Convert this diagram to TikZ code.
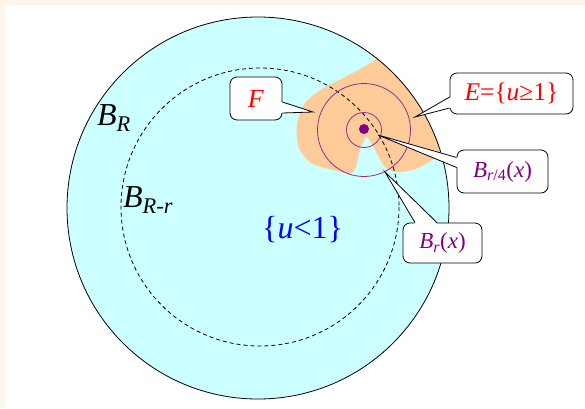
\documentclass[tikz,border=0pt]{standalone}
\usepackage{fontspec}
\setmainfont{Liberation Serif}
\usetikzlibrary{positioning,calc}
\definecolor{cream}{RGB}{253,246,237}
\definecolor{skyfill}{RGB}{204,255,255}
\definecolor{peach}{RGB}{255,204,153}
\definecolor{plum}{RGB}{128,0,128}
\definecolor{plumline}{RGB}{150,45,140}

\begin{document}
\begin{tikzpicture}[x=1pt,y=-1pt,
  callbox/.style={draw,line width=0.8pt,rounded corners=7pt,fill=white,inner sep=0pt,font=\fontsize{23}{28}\selectfont},
  bigtext/.style={anchor=base west,inner sep=0pt,font=\fontsize{32}{38}\selectfont},
  ring/.style={draw=plumline,line width=0.8pt}]
  \fill[cream] (0,0) rectangle (585,408);
  \fill[white] (5,5) rectangle (585,408);
  \useasboundingbox (0,0) rectangle (585,408);
  \fill[skyfill] (258,208) circle (191);
  \begin{scope}
    \clip (258,208) circle (191);
    \fill[peach] plot[smooth cycle] coordinates {(400,40) (372,62) (343,78) (322,89) (305,103) (297,124)
      (299,148) (311,163) (333,170) (353,172) (360,150) (367,137) (375,150) (386,168) (400,172)
      (418,168) (436,158) (470,140) (480,60)};
  \end{scope}
  \draw[line width=0.8pt] (258,208) circle (191);
  \draw[dash pattern=on 4pt off 3pt,line width=0.8pt] (260,207) circle (139);
  \draw[ring] (364,130) circle (46.5);
  \draw[ring] (364,130) circle (17.5);
  \fill[plum] (364,129) circle (5);

  \node[bigtext] (lblBR) at (97,125) {\textit{B}\textsubscript{\textit{R}}};
  \node[bigtext] (lblBRr) at (123,207) {\textit{B}\textsubscript{\textit{R-r}}};
  \node[bigtext,text=blue] (lblU) at (262,238) {\{\textit{u}<1\}};

  \node[callbox,minimum width=52pt,minimum height=43pt,text=red,font=\fontsize{26}{30}\selectfont] (boxF) at (256,98.5) {\textit{F}};
  \node[callbox,minimum width=123pt,minimum height=41pt,text=red,font=\fontsize{25.5}{30}\selectfont] (boxE) at (511.5,93.5) {\textit{E}=\{\textit{u}≥1\}};
  \node[callbox,minimum width=91pt,minimum height=43pt,text=plum] (boxQ) at (502.5,171.5) {\textit{B}\textsubscript{\textit{r}/4}(\textit{x})};
  \node[callbox,minimum width=79pt,minimum height=40pt,text=plum] (boxR) at (442.5,243) {\textit{B}\textsubscript{\textit{r}}(\textit{x})};

  \coordinate (tipF) at (313,112);
  \coordinate (tipE) at (415,117);
  \coordinate (tipQ) at (378,135);
  \coordinate (tipR) at (385,172);

  \fill[white] ([xshift=-1.5pt,yshift=-3.5pt]boxF.east) -- (tipF) -- ([xshift=-1.5pt,yshift=-14.5pt]boxF.east) -- cycle;
  \draw[line width=0.8pt] ([yshift=-3.5pt]boxF.east) -- (tipF) -- ([yshift=-14.5pt]boxF.east);
  \fill[white] ([xshift=1.5pt,yshift=-3.5pt]boxE.west) -- (tipE) -- ([xshift=1.5pt,yshift=-14.5pt]boxE.west) -- cycle;
  \draw[line width=0.8pt] ([yshift=-3.5pt]boxE.west) -- (tipE) -- ([yshift=-14.5pt]boxE.west);
  \fill[white] ([xshift=1.5pt,yshift=14pt]boxQ.west) -- (tipQ) -- ([xshift=1.5pt,yshift=4pt]boxQ.west) -- cycle;
  \draw[line width=0.8pt] ([yshift=14pt]boxQ.west) -- (tipQ) -- ([yshift=4pt]boxQ.west);
  \fill[white] ([xshift=-27.5pt,yshift=-1.5pt]boxR.north) -- (tipR) -- ([xshift=-5.5pt,yshift=-1.5pt]boxR.north) -- cycle;
  \draw[line width=0.8pt] ([xshift=-27.5pt]boxR.north) -- (tipR) -- ([xshift=-5.5pt]boxR.north);
\end{tikzpicture}
\end{document}
